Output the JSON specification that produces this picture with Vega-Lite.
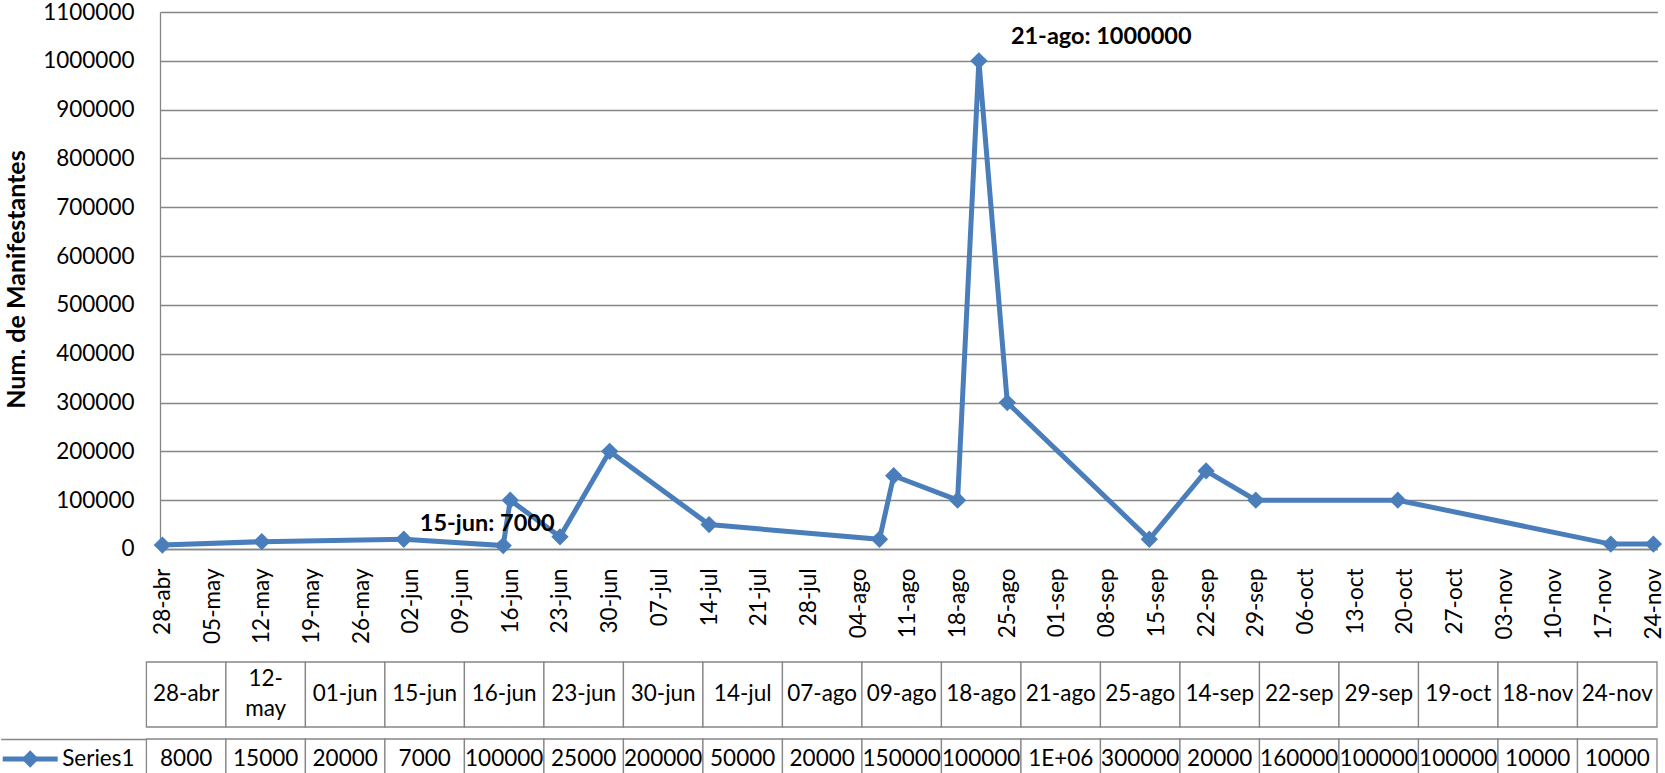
{
  "$schema": "https://vega.github.io/schema/vega-lite/v6.json",
  "background": "white",
  "padding": {"left": 0, "top": 1, "right": 0, "bottom": 0},
  "config": {"view": {"stroke": null}, "font": "Lato"},
  "datasets": {
    "datos": [
      {"fecha": "2011-04-28", "manifestantes": 8000, "encabezado": "28-abr", "celda": "8000", "serie": "Series1", "etiqueta": null},
      {"fecha": "2011-05-12", "manifestantes": 15000, "encabezado": "12-\nmay", "celda": "15000", "serie": "Series1", "etiqueta": null},
      {"fecha": "2011-06-01", "manifestantes": 20000, "encabezado": "01-jun", "celda": "20000", "serie": "Series1", "etiqueta": null},
      {"fecha": "2011-06-15", "manifestantes": 7000, "encabezado": "15-jun", "celda": "7000", "serie": "Series1", "etiqueta": "15-jun: 7000"},
      {"fecha": "2011-06-16", "manifestantes": 100000, "encabezado": "16-jun", "celda": "100000", "serie": "Series1", "etiqueta": null},
      {"fecha": "2011-06-23", "manifestantes": 25000, "encabezado": "23-jun", "celda": "25000", "serie": "Series1", "etiqueta": null},
      {"fecha": "2011-06-30", "manifestantes": 200000, "encabezado": "30-jun", "celda": "200000", "serie": "Series1", "etiqueta": null},
      {"fecha": "2011-07-14", "manifestantes": 50000, "encabezado": "14-jul", "celda": "50000", "serie": "Series1", "etiqueta": null},
      {"fecha": "2011-08-07", "manifestantes": 20000, "encabezado": "07-ago", "celda": "20000", "serie": "Series1", "etiqueta": null},
      {"fecha": "2011-08-09", "manifestantes": 150000, "encabezado": "09-ago", "celda": "150000", "serie": "Series1", "etiqueta": null},
      {"fecha": "2011-08-18", "manifestantes": 100000, "encabezado": "18-ago", "celda": "100000", "serie": "Series1", "etiqueta": null},
      {"fecha": "2011-08-21", "manifestantes": 1000000, "encabezado": "21-ago", "celda": "1E+06", "serie": "Series1", "etiqueta": "21-ago: 1000000"},
      {"fecha": "2011-08-25", "manifestantes": 300000, "encabezado": "25-ago", "celda": "300000", "serie": "Series1", "etiqueta": null},
      {"fecha": "2011-09-14", "manifestantes": 20000, "encabezado": "14-sep", "celda": "20000", "serie": "Series1", "etiqueta": null},
      {"fecha": "2011-09-22", "manifestantes": 160000, "encabezado": "22-sep", "celda": "160000", "serie": "Series1", "etiqueta": null},
      {"fecha": "2011-09-29", "manifestantes": 100000, "encabezado": "29-sep", "celda": "100000", "serie": "Series1", "etiqueta": null},
      {"fecha": "2011-10-19", "manifestantes": 100000, "encabezado": "19-oct", "celda": "100000", "serie": "Series1", "etiqueta": null},
      {"fecha": "2011-11-18", "manifestantes": 10000, "encabezado": "18-nov", "celda": "10000", "serie": "Series1", "etiqueta": null},
      {"fecha": "2011-11-24", "manifestantes": 10000, "encabezado": "24-nov", "celda": "10000", "serie": "Series1", "etiqueta": null}
    ]
  },
  "spacing": 17,
  "vconcat": [
    {
      "width": 1497.4,
      "height": 537,
      "data": {"name": "datos"},
      "encoding": {
        "x": {
          "field": "fecha",
          "type": "temporal",
          "scale": {
            "type": "utc",
            "domain": [
              {"year": 2011, "month": 4, "date": 27, "hours": 16, "utc": true},
              {"year": 2011, "month": 11, "date": 24, "hours": 13, "minutes": 30, "utc": true}
            ]
          },
          "axis": {
            "title": null,
            "values": [
              {"year": 2011, "month": 4, "date": 28, "utc": true},
              {"year": 2011, "month": 5, "date": 5, "utc": true},
              {"year": 2011, "month": 5, "date": 12, "utc": true},
              {"year": 2011, "month": 5, "date": 19, "utc": true},
              {"year": 2011, "month": 5, "date": 26, "utc": true},
              {"year": 2011, "month": 6, "date": 2, "utc": true},
              {"year": 2011, "month": 6, "date": 9, "utc": true},
              {"year": 2011, "month": 6, "date": 16, "utc": true},
              {"year": 2011, "month": 6, "date": 23, "utc": true},
              {"year": 2011, "month": 6, "date": 30, "utc": true},
              {"year": 2011, "month": 7, "date": 7, "utc": true},
              {"year": 2011, "month": 7, "date": 14, "utc": true},
              {"year": 2011, "month": 7, "date": 21, "utc": true},
              {"year": 2011, "month": 7, "date": 28, "utc": true},
              {"year": 2011, "month": 8, "date": 4, "utc": true},
              {"year": 2011, "month": 8, "date": 11, "utc": true},
              {"year": 2011, "month": 8, "date": 18, "utc": true},
              {"year": 2011, "month": 8, "date": 25, "utc": true},
              {"year": 2011, "month": 9, "date": 1, "utc": true},
              {"year": 2011, "month": 9, "date": 8, "utc": true},
              {"year": 2011, "month": 9, "date": 15, "utc": true},
              {"year": 2011, "month": 9, "date": 22, "utc": true},
              {"year": 2011, "month": 9, "date": 29, "utc": true},
              {"year": 2011, "month": 10, "date": 6, "utc": true},
              {"year": 2011, "month": 10, "date": 13, "utc": true},
              {"year": 2011, "month": 10, "date": 20, "utc": true},
              {"year": 2011, "month": 10, "date": 27, "utc": true},
              {"year": 2011, "month": 11, "date": 3, "utc": true},
              {"year": 2011, "month": 11, "date": 10, "utc": true},
              {"year": 2011, "month": 11, "date": 17, "utc": true},
              {"year": 2011, "month": 11, "date": 24, "utc": true}
            ],
            "labelExpr": "utcFormat(datum.value, '%d') + '-' + ['ene','feb','mar','abr','may','jun','jul','ago','sep','oct','nov','dic'][utcmonth(datum.value)]",
            "labelAngle": 270,
            "labelFlush": false,
            "labelOverlap": false,
            "grid": false,
            "ticks": false,
            "tickSize": 0,
            "labelPadding": 19,
            "domainColor": "#868686",
            "domainWidth": 1.3,
            "labelFont": "Lato",
            "labelFontSize": 22.5,
            "labelColor": "black"
          }
        },
        "y": {
          "field": "manifestantes",
          "type": "quantitative",
          "scale": {"domain": [0, 1100000], "nice": false},
          "axis": {
            "values": [0, 100000, 200000, 300000, 400000, 500000, 600000, 700000, 800000, 900000, 1000000, 1100000],
            "format": "d",
            "grid": true,
            "gridColor": "#868686",
            "gridWidth": 1.3,
            "domainColor": "#868686",
            "domainWidth": 1.3,
            "ticks": false,
            "tickSize": 0,
            "labelPadding": 26,
            "labelOverlap": false,
            "labelFont": "Lato",
            "labelFontSize": 22.5,
            "labelColor": "black",
            "title": "Num. de Manifestantes",
            "titleFont": "Lato",
            "titleFontSize": 25,
            "titleFontWeight": "bold",
            "titleColor": "black",
            "titleAngle": 270,
            "titleAlign": "center",
            "titleBaseline": "middle",
            "titleX": -143,
            "titleY": 267
          }
        }
      },
      "layer": [
        {"mark": {"type": "line", "color": "#4A7EBB", "strokeWidth": 5}},
        {"mark": {"type": "point", "shape": "diamond", "filled": true, "size": 300, "color": "#4A7EBB", "opacity": 1}},
        {
          "transform": [{"filter": "datum.etiqueta == '21-ago: 1000000'"}],
          "mark": {"type": "text", "align": "left", "baseline": "middle", "dx": 32, "dy": -24, "font": "Lato", "fontSize": 23.5, "fontWeight": "bold", "color": "black"},
          "encoding": {"text": {"field": "etiqueta"}}
        },
        {
          "transform": [{"filter": "datum.etiqueta == '15-jun: 7000'"}],
          "mark": {"type": "text", "align": "center", "baseline": "middle", "dx": -16, "dy": -22, "font": "Lato", "fontSize": 23.5, "fontWeight": "bold", "color": "black"},
          "encoding": {"text": {"field": "etiqueta"}}
        }
      ]
    },
    {
      "spacing": 0,
      "vconcat": [
        {
          "width": 1497.4,
          "height": 65,
          "data": {"name": "datos"},
          "encoding": {
            "x": {"field": "fecha", "type": "ordinal", "scale": {"type": "band", "paddingInner": 0, "paddingOuter": 0, "range": [-13.6, 1497]}, "axis": null}
          },
          "layer": [
            {"mark": {"type": "rect", "fill": "white", "stroke": "#868686", "strokeWidth": 1.3}},
            {
              "transform": [{"filter": "indexof(datum.encabezado, '\\n') < 0"}],
              "mark": {"type": "text", "font": "Lato", "fontSize": 22.5, "color": "black", "baseline": "middle", "align": "center"},
              "encoding": {"text": {"field": "encabezado"}}
            },
            {
              "transform": [{"filter": "indexof(datum.encabezado, '\\n') >= 0"}],
              "mark": {"type": "text", "font": "Lato", "fontSize": 22.5, "color": "black", "lineBreak": "\n", "lineHeight": 30, "baseline": "middle", "align": "center", "dy": -15},
              "encoding": {"text": {"field": "encabezado"}}
            }
          ]
        },
        {
          "width": 1497.4,
          "height": 40,
          "data": {"name": "datos"},
          "encoding": {
            "x": {"field": "fecha", "type": "ordinal", "scale": {"type": "band", "paddingInner": 0, "paddingOuter": 0, "range": [-13.6, 1497]}, "axis": null},
            "y": {
              "field": "serie",
              "type": "nominal",
              "scale": {"type": "band", "paddingInner": 0, "paddingOuter": 0},
              "axis": {
                "title": null,
                "domain": false,
                "ticks": true,
                "tickBand": "extent",
                "tickSize": 145.7,
                "tickColor": "#868686",
                "tickWidth": 1.3,
                "offset": 13.6,
                "labelAlign": "left",
                "labelPadding": -61,
                "labelFont": "Lato",
                "labelFontSize": 22.5,
                "labelColor": "black"
              }
            }
          },
          "layer": [
            {"mark": {"type": "rect", "fill": "white", "stroke": "#868686", "strokeWidth": 1.3}},
            {"mark": {"type": "text", "font": "Lato", "fontSize": 22.5, "color": "black", "baseline": "middle", "align": "center"}, "encoding": {"text": {"field": "celda"}}},
            {
              "transform": [{"filter": "datum.encabezado == '28-abr'"}],
              "mark": {"type": "rule", "strokeWidth": 5, "color": "#4A7EBB", "opacity": 1, "xOffset": -143.7, "x2Offset": -88.7},
              "encoding": {
                "x": {"field": "fecha", "type": "ordinal", "bandPosition": 0},
                "x2": {"field": "fecha", "bandPosition": 0}
              }
            },
            {
              "transform": [{"filter": "datum.encabezado == '28-abr'"}],
              "mark": {"type": "point", "shape": "diamond", "filled": true, "size": 300, "color": "#4A7EBB", "opacity": 1, "xOffset": -116.2},
              "encoding": {"x": {"field": "fecha", "type": "ordinal", "bandPosition": 0}}
            }
          ]
        }
      ]
    }
  ]
}
